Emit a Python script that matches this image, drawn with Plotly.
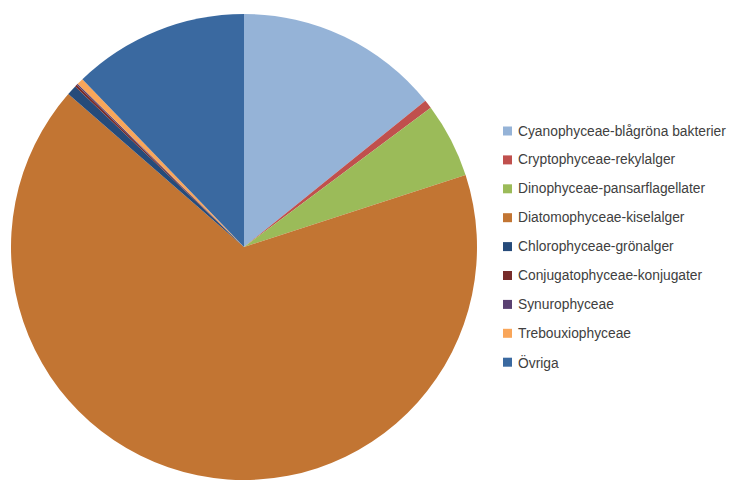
import plotly.graph_objects as go

# Phytoplankton groups, share of total biomass (%)
labels = [
    "Cyanophyceae-blågröna bakterier",
    "Cryptophyceae-rekylalger",
    "Dinophyceae-pansarflagellater",
    "Diatomophyceae-kiselalger",
    "Chlorophyceae-grönalger",
    "Conjugatophyceae-konjugater",
    "Synurophyceae",
    "Trebouxiophyceae",
    "Övriga",
]
values = [14.2, 0.6, 5.2, 66.4, 0.7, 0.15, 0.1, 0.45, 12.2]
colors = [
    "#95B3D7", "#C0504D", "#9BBB59", "#C27533", "#264B7A",
    "#772C2A", "#5A4172", "#F9A65A", "#3A69A0",
]

W, H = 729, 480

fig = go.Figure(
    go.Pie(
        labels=labels,
        values=values,
        marker=dict(colors=colors, line=dict(width=0)),
        sort=False,
        direction="clockwise",
        rotation=0,
        textinfo="none",
        hoverinfo="label+percent",
        domain=dict(x=[10 / W, 478 / W], y=[0, 466 / H]),
        showlegend=False,
    )
)

# Legend: colour square + label per group
x_box = 503
x_text = 516
y0, dy = 131, 28.9
box = 9
for i, (lab, col) in enumerate(zip(labels, colors)):
    yc = y0 + i * dy
    fig.add_shape(
        type="rect", xref="paper", yref="paper",
        x0=x_box / W, x1=(x_box + box) / W,
        y0=1 - (yc + box / 2) / H, y1=1 - (yc - box / 2) / H,
        fillcolor=col, line=dict(width=0),
    )
    fig.add_annotation(
        xref="paper", yref="paper",
        x=x_text / W, y=1 - yc / H,
        xanchor="left", yanchor="middle",
        text=lab, showarrow=False,
        font=dict(family="Liberation Sans", size=13.8, color="#404040"),
    )

fig.update_layout(
    width=W, height=H,
    margin=dict(l=0, r=0, t=0, b=0),
    paper_bgcolor="white",
    plot_bgcolor="white",
)

fig.write_html("out.html")
